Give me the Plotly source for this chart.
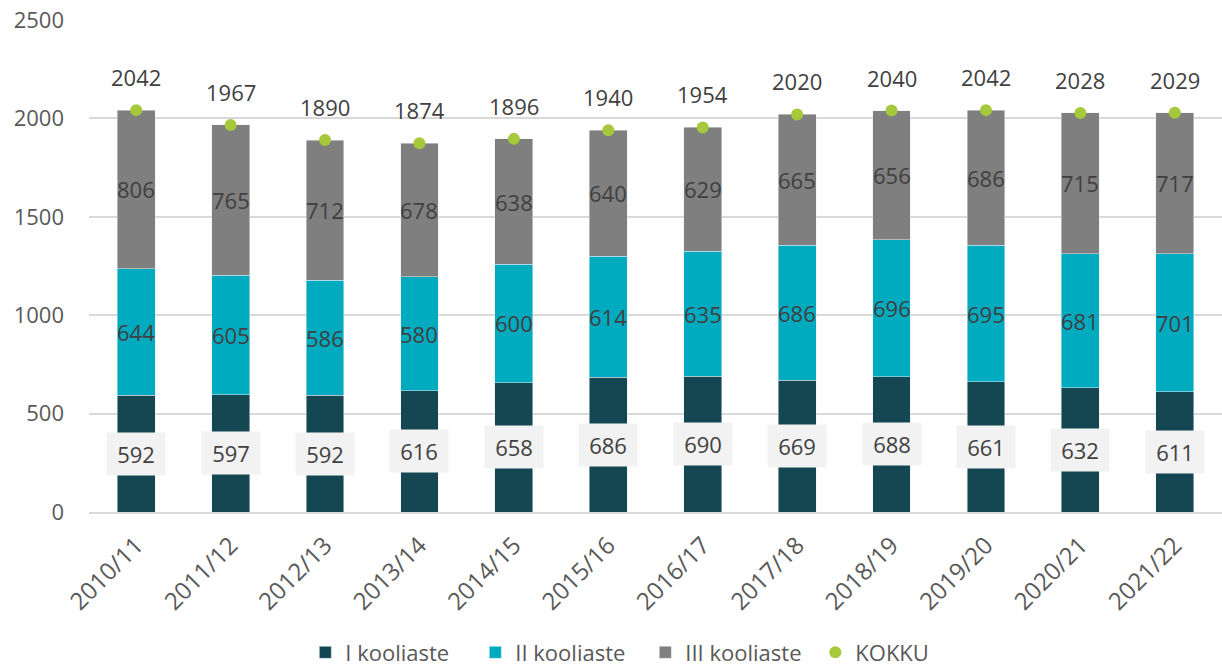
import plotly.graph_objects as go

years = ["2010/11", "2011/12", "2012/13", "2013/14", "2014/15", "2015/16",
         "2016/17", "2017/18", "2018/19", "2019/20", "2020/21", "2021/22"]
stage1 = [592, 597, 592, 616, 658, 686, 690, 669, 688, 661, 632, 611]
stage2 = [644, 605, 586, 580, 600, 614, 635, 686, 696, 695, 681, 701]
stage3 = [806, 765, 712, 678, 638, 640, 629, 665, 656, 686, 715, 717]
totals = [2042, 1967, 1890, 1874, 1896, 1940, 1954, 2020, 2040, 2042, 2028, 2029]

names = ["I kooliaste", "II kooliaste", "III kooliaste", "KOKKU"]
colors = ["#154753", "#00aabf", "#7f7f7f", "#a5c93a"]
FONT = "Open Sans"
TXT = "#404040"
AX = "#595959"
FS = 22

fig = go.Figure()
fig.add_trace(go.Bar(x=years, y=stage1, name=names[0], marker_color=colors[0], width=0.4))
fig.add_trace(go.Bar(x=years, y=stage2, name=names[1], marker_color=colors[1], width=0.4))
fig.add_trace(go.Bar(x=years, y=stage3, name=names[2], marker_color=colors[2], width=0.4))
fig.add_trace(go.Scatter(x=years, y=totals, name=names[3], mode="markers",
                         marker=dict(color=colors[3], size=12)))

annotations = []
for yr, a, b, c, t in zip(years, stage1, stage2, stage3, totals):
    annotations.append(dict(x=yr, y=a / 2, text=str(a), showarrow=False,
                            bgcolor="#f2f2f2", borderpad=7, width=44, height=28,
                            font=dict(family=FONT, size=FS, color=TXT)))
    annotations.append(dict(x=yr, y=a + b / 2, text=str(b), showarrow=False,
                            font=dict(family=FONT, size=FS, color=TXT)))
    annotations.append(dict(x=yr, y=a + b + c / 2, text=str(c), showarrow=False,
                            font=dict(family=FONT, size=FS, color=TXT)))
    annotations.append(dict(x=yr, y=t, text=str(t), showarrow=False, yshift=33,
                            font=dict(family=FONT, size=FS, color=TXT)))

fig.update_layout(
    barmode="stack",
    width=1222, height=666,
    margin=dict(l=89, r=0, t=20, b=154, autoexpand=False),
    plot_bgcolor="white", paper_bgcolor="white",
    font=dict(family=FONT, size=FS, color=TXT),
    annotations=annotations,
    legend=dict(orientation="h", x=0.491, xanchor="center", y=-0.243, yanchor="top",
                font=dict(family=FONT, size=22, color=AX),
                traceorder="normal", entrywidth=125, entrywidthmode="pixels"),
    showlegend=True,
)
fig.update_yaxes(range=[0, 2500], dtick=500, showgrid=True, gridcolor="#d9d9d9",
                 gridwidth=1.5, zeroline=False, showline=False, automargin=False,
                 tickfont=dict(family=FONT, size=FS, color=AX),
                 ticklabelstandoff=24)
fig.update_xaxes(range=[-0.5, len(years) - 0.5], tickangle=-45, showline=True,
                 linecolor="#d9d9d9", linewidth=1.5, automargin=False,
                 ticklabelstandoff=8,
                 tickfont=dict(family=FONT, size=24, color=AX))

fig.write_html("out.html", config={"displayModeBar": False},
               post_script="document.body.style.margin='0';document.body.style.overflow='hidden';")
